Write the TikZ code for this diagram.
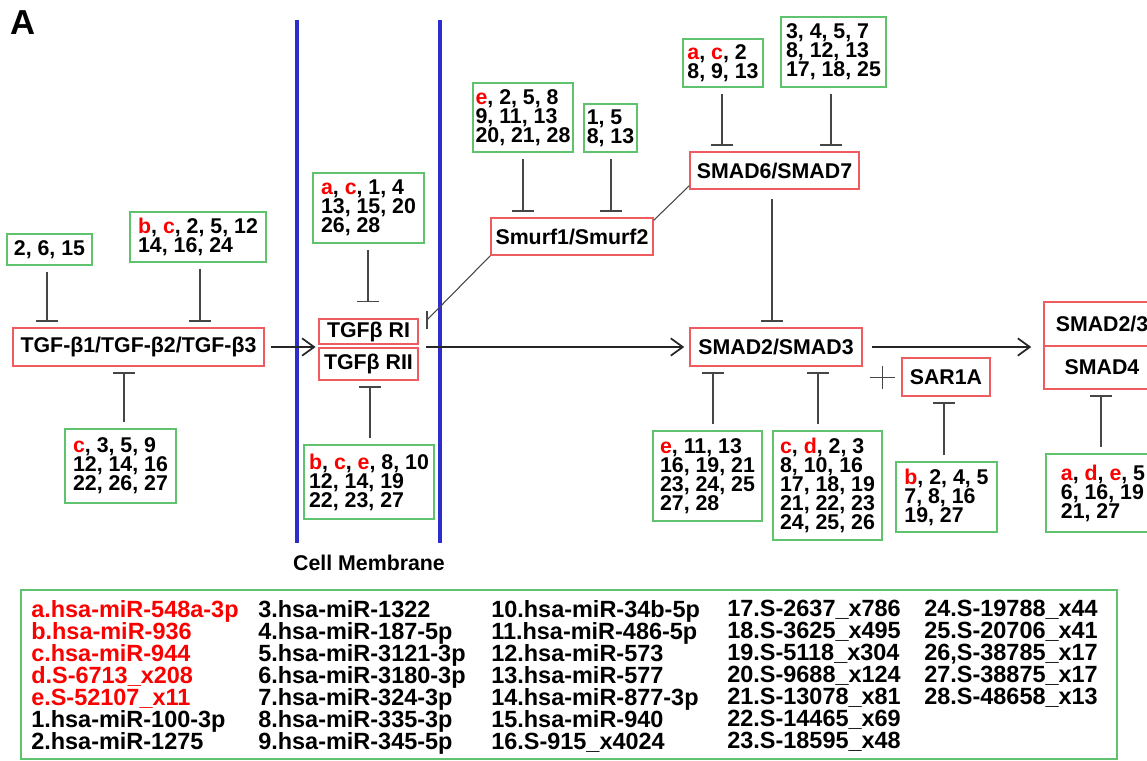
\documentclass[tikz,border=0pt]{standalone}
\usepackage{fontspec}
\setmainfont{Liberation Sans}
\usetikzlibrary{arrows.meta}
\definecolor{rbox}{RGB}{238,92,96}
\definecolor{gbox}{RGB}{95,195,110}
\definecolor{memb}{RGB}{45,45,205}
\definecolor{lgray}{RGB}{70,70,70}
\definecolor{mred}{RGB}{250,0,0}
\newcommand\rd[1]{\textcolor{mred}{#1}}
\tikzset{
  redbox/.style={draw=rbox,line width=1.1pt,inner sep=0pt,font=\bfseries\fontsize{16}{16}\selectfont},
  grnbox/.style={draw=gbox,line width=1.1pt,inner sep=0pt,align=left,font=\bfseries\fontsize{16}{14.3}\selectfont},
  inh/.style={draw=lgray,line width=1.2pt,-{Bar[width=16.5pt,line width=1.2pt]},shorten <=4.5pt,shorten >=4.2pt},
  act/.style={draw=black!85,line width=1.2pt,-{Straight Barb[length=9pt,width=13pt,line width=1.3pt]}},
  thinline/.style={draw=lgray,line width=0.8pt},
  legtxt/.style={anchor=north west,inner sep=0pt,align=left,font=\bfseries\fontsize{17.6}{16.5}\selectfont},
}
\begin{document}
\begin{tikzpicture}[x=0.75pt,y=-0.75pt]
\useasboundingbox (0,0) rectangle (1147,761);
\clip (0,0) rectangle (1147,761);

\node[font=\bfseries\fontsize{26}{26}\selectfont,inner sep=0pt] (lblA) at (23.5,22.5) {A};

% membrane
\draw[memb,line width=2.3pt] (297,20) -- (297,543);
\draw[memb,line width=2.3pt] (440,20) -- (440,543);
\node[font=\bfseries\fontsize{16}{16}\selectfont,inner sep=0pt] (cm) at (369,563) {Cell Membrane};

% red nodes
\node[redbox,minimum width=251*0.75pt,minimum height=38*0.75pt] (tgf) at (138.5,347) {TGF-β1/TGF-β2/TGF-β3};
\node[redbox,minimum width=99*0.75pt,minimum height=25*0.75pt] (ri) at (368.5,331.5) {TGFβ RI};
\node[redbox,minimum width=99*0.75pt,minimum height=32*0.75pt] (rii) at (368.5,364) {TGFβ RII};
\node[redbox,minimum width=162*0.75pt,minimum height=37*0.75pt] (smurf) at (572,236.5) {Smurf1/Smurf2};
\node[redbox,minimum width=169*0.75pt,minimum height=37*0.75pt] (s67) at (774.5,170.5) {SMAD6/SMAD7};
\node[redbox,minimum width=172*0.75pt,minimum height=38*0.75pt] (s23) at (776,347) {SMAD2/SMAD3};
\node[redbox,minimum width=88*0.75pt,minimum height=38*0.75pt] (sar) at (946,377) {SAR1A};
\node[redbox,minimum width=116*0.75pt,minimum height=44*0.75pt] (cxa) at (1102,324) {SMAD2/3};
\node[redbox,minimum width=116*0.75pt,minimum height=43*0.75pt] (cxb) at (1102,367.5) {SMAD4};

% green nodes
\node[grnbox,minimum width=85*0.75pt,minimum height=31*0.75pt] (g1) at (49.5,249.5) {2, 6, 15};
\node[grnbox,minimum width=136*0.75pt,minimum height=50*0.75pt] (g2) at (198,237) {\rd{b}, \rd{c}, 2, 5, 12\\14, 16, 24};
\node[grnbox,minimum width=111*0.75pt,minimum height=74*0.75pt] (g3) at (120.5,466) {\rd{c}, 3, 5, 9\\12, 14, 16\\22, 26, 27};
\node[grnbox,minimum width=111*0.75pt,minimum height=70*0.75pt] (g4) at (368.5,208) {\rd{a}, \rd{c}, 1, 4\\13, 15, 20\\26, 28};
\node[grnbox,minimum width=130*0.75pt,minimum height=74*0.75pt] (g5) at (369,482) {\rd{b}, \rd{c}, \rd{e}, 8, 10\\12, 14, 19\\22, 23, 27};
\node[grnbox,minimum width=100*0.75pt,minimum height=69*0.75pt] (g6) at (523,117.5) {\rd{e}, 2, 5, 8\\9, 11, 13\\20, 21, 28};
\node[grnbox,minimum width=53*0.75pt,minimum height=48*0.75pt] (g7) at (610.5,128) {1, 5\\8, 13};
\node[grnbox,minimum width=80*0.75pt,minimum height=48*0.75pt] (g8) at (723,63) {\rd{a}, \rd{c}, 2\\8, 9, 13};
\node[grnbox,minimum width=105*0.75pt,minimum height=70*0.75pt] (g9) at (833.5,52) {3, 4, 5, 7\\8, 12, 13\\17, 18, 25};
\node[grnbox,minimum width=109*0.75pt,minimum height=90*0.75pt] (g10) at (707.5,476) {\rd{e}, 11, 13\\16, 19, 21\\23, 24, 25\\27, 28};
\node[grnbox,minimum width=109*0.75pt,minimum height=109*0.75pt] (g11) at (827.5,485.5) {\rd{c}, \rd{d}, 2, 3\\8, 10, 16\\17, 18, 19\\21, 22, 23\\24, 25, 26};
\node[grnbox,minimum width=101*0.75pt,minimum height=70*0.75pt] (g12) at (946.5,497) {\rd{b}, 2, 4, 5\\7, 8, 16\\19, 27};
\node[grnbox,minimum width=114*0.75pt,minimum height=78*0.75pt] (g13) at (1103,493) {\rd{a}, \rd{d}, \rd{e}, 5\\6, 16, 19\\21, 27};

% inhibition connectors
\draw[inh] (g1.south -| 47,0) -- (tgf.north -| 47,0);
\draw[inh] (g2.south -| 200,0) -- (tgf.north -| 200,0);
\draw[inh] (g3.north -| 124,0) -- (tgf.south -| 124,0);
\draw[inh,shorten >=12pt] (g4.south -| 368,0) -- (ri.north -| 368,0);
\draw[inh] (g5.north -| 370,0) -- (rii.south -| 370,0);
\draw[inh] (g6.south -| 523,0) -- (smurf.north -| 523,0);
\draw[inh] (g7.south -| 611,0) -- (smurf.north -| 611,0);
\draw[inh] (g8.south -| 722,0) -- (s67.north -| 722,0);
\draw[inh] (g9.south -| 831,0) -- (s67.north -| 831,0);
\draw[inh,shorten <=6.75pt] (s67.south -| 772,0) -- (s23.north -| 772,0);
\draw[inh] (g10.north -| 713,0) -- (s23.south -| 713,0);
\draw[inh] (g11.north -| 818,0) -- (s23.south -| 818,0);
\draw[inh] (g12.north -| 944,0) -- (sar.south -| 944,0);
\draw[inh] (g13.north -| 1101,0) -- (cxb.south -| 1101,0);

% Smurf -| TGFb RI
\coordinate (ribar) at (427,320);
\draw[thinline] (smurf.south west) -- (ribar);
\draw[draw=lgray,line width=1.2pt] ([yshift=6.5pt]ribar) -- ([yshift=-6.5pt]ribar);
% SMAD6/7 -- Smurf
\draw[thinline] ([yshift=3pt]s67.south west) -- ([yshift=-2.25pt]smurf.north east);

% activation arrows
\draw[act,shorten <=4.5pt,shorten >=2pt] (tgf.east) -- (tgf.east -| ri.west);
\draw[act,shorten <=5.25pt,shorten >=3.75pt] (s23.west -| rii.east) -- (s23.west);
\draw[act,shorten <=6.75pt,shorten >=9pt] (s23.east) -- (s23.east -| cxb.west);

% plus sign
\draw[draw=lgray,line width=1pt] (870,377.5) -- (895,377.5) (882.5,366) -- (882.5,389);

% legend
\node[draw=gbox,line width=1.1pt,inner sep=0pt,minimum width=1096*0.75pt,minimum height=169*0.75pt] (leg) at (569,674.5) {};
\node[legtxt] (l1) at (31,600) {\rd{a.hsa-miR-548a-3p}\\\rd{b.hsa-miR-936}\\\rd{c.hsa-miR-944}\\\rd{d.S-6713\_x208}\\\rd{e.S-52107\_x11}\\1.hsa-miR-100-3p\\2.hsa-miR-1275};
\node[legtxt] (l2) at (258,600) {3.hsa-miR-1322\\4.hsa-miR-187-5p\\5.hsa-miR-3121-3p\\6.hsa-miR-3180-3p\\7.hsa-miR-324-3p\\8.hsa-miR-335-3p\\9.hsa-miR-345-5p};
\node[legtxt] (l3) at (491,600) {10.hsa-miR-34b-5p\\11.hsa-miR-486-5p\\12.hsa-miR-573\\13.hsa-miR-577\\14.hsa-miR-877-3p\\15.hsa-miR-940\\16.S-915\_x4024};
\node[legtxt] (l4) at (727,600) {17.S-2637\_x786\\18.S-3625\_x495\\19.S-5118\_x304\\20.S-9688\_x124\\21.S-13078\_x81\\22.S-14465\_x69\\23.S-18595\_x48};
\node[legtxt] (l5) at (924,600) {24.S-19788\_x44\\25.S-20706\_x41\\26,S-38785\_x17\\27.S-38875\_x17\\28.S-48658\_x13};
\end{tikzpicture}
\end{document}
